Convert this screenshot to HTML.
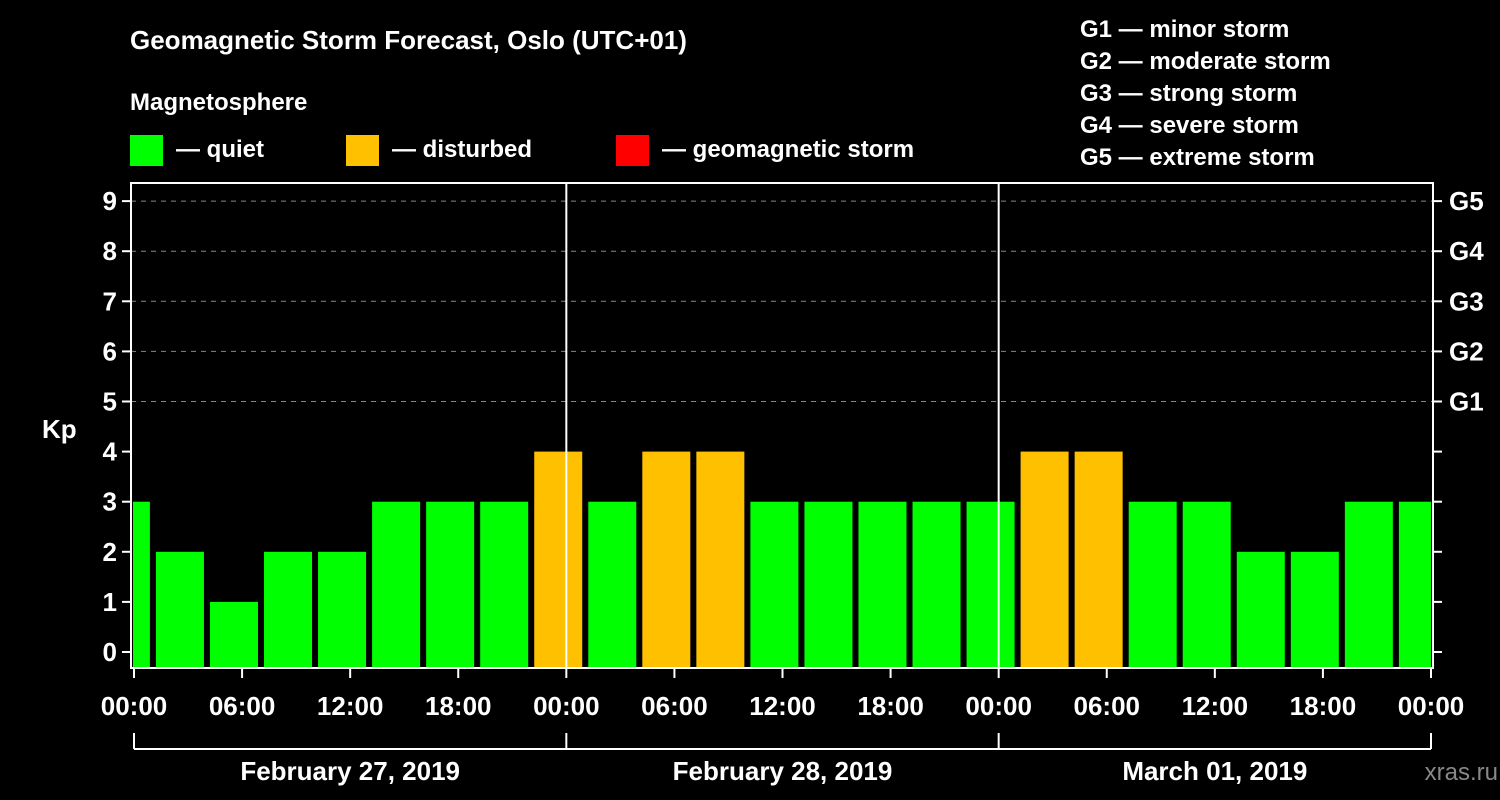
<!DOCTYPE html>
<html><head><meta charset="utf-8"><style>
body{margin:0;background:#000;}
svg{display:block;font-family:"Liberation Sans",Arial,sans-serif;font-weight:bold;}
</style></head><body>
<svg width="1500" height="800" viewBox="0 0 1500 800">
<rect width="1500" height="800" fill="#000"/>
<text x="130" y="49" fill="#fff" font-size="26">Geomagnetic Storm Forecast, Oslo (UTC+01)</text>
<text x="130" y="110" fill="#fff" font-size="24">Magnetosphere</text>
<g>
<rect x="130" y="135" width="33" height="31" fill="#00ff00"/>
<text x="176" y="157" fill="#fff" font-size="24">— quiet</text>
<rect x="346" y="135" width="33" height="31" fill="#ffc000"/>
<text x="392" y="157" fill="#fff" font-size="24">— disturbed</text>
<rect x="616" y="135" width="33" height="31" fill="#ff0000"/>
<text x="662" y="157" fill="#fff" font-size="24">— geomagnetic storm</text>
</g>
<g fill="#fff" font-size="24">
<text x="1080" y="37">G1 — minor storm</text>
<text x="1080" y="69">G2 — moderate storm</text>
<text x="1080" y="101">G3 — strong storm</text>
<text x="1080" y="133">G4 — severe storm</text>
<text x="1080" y="165">G5 — extreme storm</text>
</g>
<text x="42" y="438" fill="#fff" font-size="26">Kp</text>
<text x="1498" y="780" fill="#888" font-size="24" text-anchor="end" font-weight="normal">xras.ru</text>
<g id="plot"></g>
</svg>
<script>
const kpValues=[3,2,1,2,2,3,3,3,4,3,4,4,3,3,3,3,3,4,4,3,3,2,2,3,3];
const xTickLabels=["00:00","06:00","12:00","18:00","00:00","06:00","12:00","18:00","00:00","06:00","12:00","18:00","00:00"];
const dayLabels=["February 27, 2019","February 28, 2019","March 01, 2019"];
const gLabels=["G1","G2","G3","G4","G5"];
const yTicks=[0,1,2,3,4,5,6,7,8,9];
const NS="http://www.w3.org/2000/svg";
const g=document.getElementById('plot');
const L=131,R=1433,T=183,B=668,X0=134,X1=1431;
const hours=72;
const xs=h=>X0+(X1-X0)*h/hours;
const ys=v=>652-v*50.1;
function mk(t,a,p){const e=document.createElementNS(NS,t);for(const k in a)e.setAttribute(k,a[k]);(p||g).appendChild(e);return e;}
// grid
yTicks.forEach(v=>{
 if(v>=5){const l=mk('line',{x1:L,x2:R,y1:ys(v),y2:ys(v),stroke:'#888','stroke-dasharray':'5,5','stroke-width':1});
 }
 const t=mk('line',{x1:L-9,x2:L,y1:ys(v),y2:ys(v),stroke:'#fff','stroke-width':2});
 
 const t2=mk('line',{x1:R,x2:R+9,y1:ys(v),y2:ys(v),stroke:'#fff','stroke-width':2});
 
 const tx=mk('text',{x:L-14,y:ys(v)+9,fill:'#fff','font-size':26,'text-anchor':'end'});tx.textContent=v;
 
});
gLabels.forEach((s,i)=>{const tx=mk('text',{x:1449,y:ys(5+i)+9,fill:'#fff','font-size':26});tx.textContent=s;
 });
// bars
const clip=mk('clipPath',{id:'pc'});mk('rect',{x:L+2,y:T,width:R-L-4,height:B-T},clip);
kpValues.forEach((v,i)=>{
 const c=xs(i*3-0.45);
 const col=v>=5?'#ff0000':(v>=4?'#ffc000':'#00ff00');
 const r=mk('rect',{x:c-24,y:ys(v),width:48,height:B-ys(v),fill:col,'clip-path':'url(#pc)'});
 
});
// day separators
[24,48].forEach(h=>{const l=mk('line',{x1:xs(h),x2:xs(h),y1:T,y2:B,stroke:'#fff','stroke-width':2});
 });
// frame
const f=mk('rect',{x:L,y:T,width:R-L,height:B-T,fill:'none',stroke:'#fff','stroke-width':2});

xTickLabels.forEach((s,i)=>{const x=xs(i*6);
 const t=mk('line',{x1:x,x2:x,y1:B,y2:B+10,stroke:'#fff','stroke-width':2});
 
 const tx=mk('text',{x:x,y:715,fill:'#fff','font-size':26,'text-anchor':'middle'});tx.textContent=s;
 });
// day brackets
const br=mk('line',{x1:xs(0),x2:xs(72),y1:749,y2:749,stroke:'#fff','stroke-width':2});

[0,24,48,72].forEach(h=>{const l=mk('line',{x1:xs(h),x2:xs(h),y1:733,y2:749,stroke:'#fff','stroke-width':2});
 });
dayLabels.forEach((s,i)=>{const tx=mk('text',{x:xs(i*24+12),y:780,fill:'#fff','font-size':26,'text-anchor':'middle'});tx.textContent=s;
 });
</script>
</body></html>
